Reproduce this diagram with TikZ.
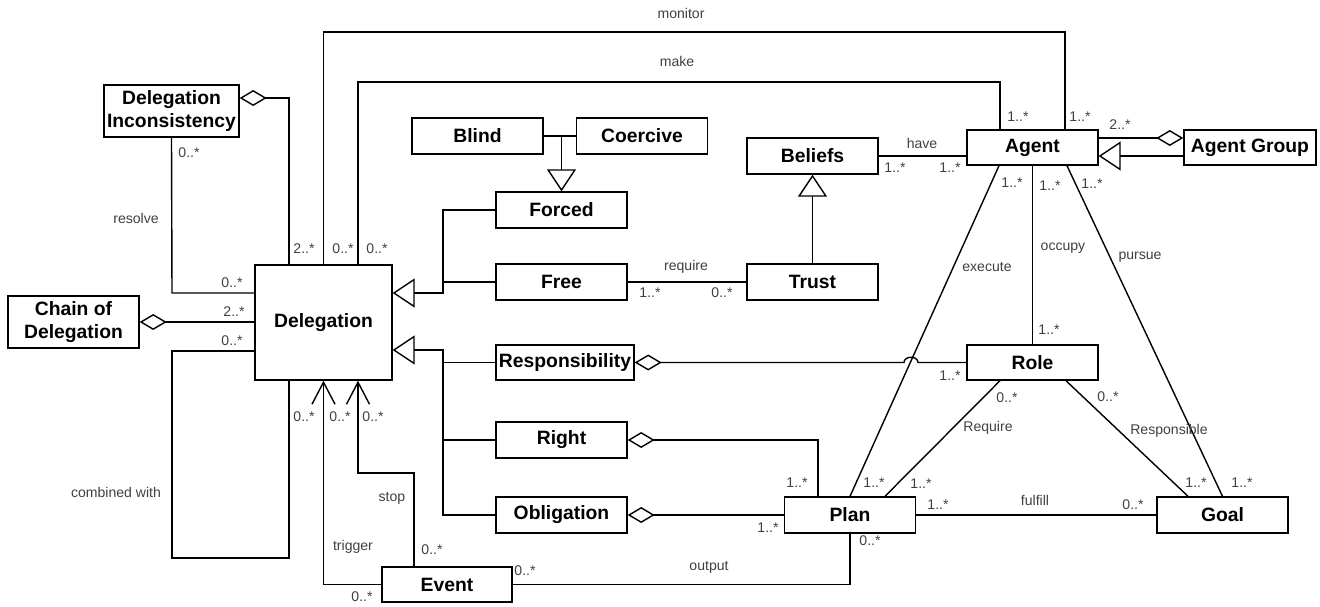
\documentclass[tikz,border=0pt]{standalone}
\usepackage{fontspec}
\setmainfont{Liberation Sans}
\usetikzlibrary{arrows.meta}
\tikzset{
    cls/.style={draw, line width=0.8pt, fill=white, inner sep=0pt, align=center,
        minimum width=2.62cm, minimum height=0.72cm,
        font=\fontsize{11}{13}\selectfont\bfseries},
    lbl/.style={font=\fontsize{8}{9}\selectfont, text=black!75, inner sep=0pt},
    agg/.style={{Diamond[open,length=0.54cm,width=0.32cm]}-},
    gen/.style={-{Triangle[open,length=0.44cm,width=0.58cm]}},
    dep/.style={-{Straight Barb[length=0.44cm,width=0.46cm]}}
}
\begin{document}
\begin{tikzpicture}[x=0.02cm, y=-0.02cm, line width=0.8pt]
        \useasboundingbox (0,0) rectangle (1320,606);

        \node[cls, minimum width=2.7cm, minimum height=1.04cm] (DI) at (171.5,111) {Delegation\\Inconsistency};
        \node[cls, minimum height=1.04cm] (Chain) at (73.5,322) {Chain of\\Delegation};
        \node[cls, minimum width=2.74cm, minimum height=2.3cm] (Delegation) at (323.5,322.5) {Delegation};
        \node[cls] (Blind) at (477.5,136) {Blind};
        \node[cls] (Coercive) at (642,136) {Coercive};
        \node[cls] (Forced) at (561.5,210) {Forced};
        \node[cls] (Free) at (561.5,282) {Free};
        \node[cls] (Beliefs) at (812.5,156) {Beliefs};
        \node[cls] (Trust) at (812.5,282) {Trust};
        \node[cls, minimum height=0.7cm] (Agent) at (1032.5,147.5) {Agent};
        \node[cls, minimum width=2.64cm, minimum height=0.7cm] (AgentGroup) at (1250,147.5) {Agent Group};
        \node[cls, minimum width=2.76cm, minimum height=0.7cm] (Responsibility) at (565,362.5) {Responsibility};
        \node[cls, minimum height=0.7cm] (Role) at (1032.5,362.5) {Role};
        \node[cls] (Right) at (561.5,440) {Right};
        \node[cls] (Obligation) at (561.5,515) {Obligation};
        \node[cls] (Plan) at (850,515) {Plan};
        \node[cls] (Goal) at (1222.5,515) {Goal};
        \node[cls, minimum width=2.6cm, minimum height=0.7cm] (Event) at (447,584.5) {Event};

        % bend points
        \coordinate (mon) at (1065,32);
        \coordinate (mk0) at (358,82);
        \coordinate (mk1) at (1000,82);
        \coordinate (di) at (289,98);
        \coordinate (rs) at (172,293);
        \coordinate (cb0) at (172,351);
        \coordinate (cb1) at (289,558);
        \coordinate (st0) at (414,473);
        \coordinate (st1) at (358,473);
        \coordinate (gA) at (443,293);
        \coordinate (gB) at (443,350);
        \coordinate (hop) at (911,362.5);

        % Delegation
        \draw (Delegation.north) |- (mon) -- (mon |- Agent.north);
        \draw (mk0 |- Delegation.north) -- (mk0) -- (mk1) -- (mk1 |- Agent.north);
        \draw[agg] (DI.east |- di) -- (di) -- (di |- Delegation.north);
        \draw (DI.south) -- (rs) -- (rs -| Delegation.west);
        \draw[agg] (Chain.east) -- (Chain.east -| Delegation.west);
        \draw (cb0 -| Delegation.west) -- (cb0) |- (cb1) -- (cb1 |- Delegation.south);
        \draw[dep] (Event.west) -| (Delegation.south);
        \draw[dep] (st0 |- Event.north) -- (st0) -- (st1) -- (st1 |- Delegation.south);
        \draw (Event.east) -| (Plan.south);

        % kinds of delegation
        \draw[gen] (Forced.west) -| (gA) -- (gA -| Delegation.east);
        \draw (Free.west) -- (Free.west -| gA);
        \draw[gen] (Obligation.west) -| (gB) -- (gB -| Delegation.east);
        \draw (Right.west) -- (Right.west -| gB);
        \draw (Responsibility.west) -- (Responsibility.west -| gB);
        \draw (Blind.east) -- (Coercive.west);
        \draw[gen] (Blind.east -| Forced.north) -- (Forced.north);
        \draw[gen] (Trust.north) -- (Beliefs.south);
        \draw (Free.east) -- (Trust.west);

        % Agent
        \draw (Beliefs.east) -- (Beliefs.east -| Agent.west);
        \draw[agg] ([yshift=0.19cm]AgentGroup.west) -- ([yshift=0.19cm]Agent.east);
        \draw[gen] ([yshift=-0.17cm]AgentGroup.west) -- ([yshift=-0.17cm]Agent.east);
        \draw ([xshift=-0.67cm]Agent.south) -- (Plan.north);
        \draw (Agent.south) -- (Role.north);
        \draw ([xshift=0.69cm]Agent.south) -- (Goal.north);

        % Role, Plan, Goal
        \draw[agg] (Responsibility.east) -- ([xshift=-0.14cm]hop)
            .. controls ([xshift=-0.14cm,yshift=0.14cm]hop) and ([xshift=0.14cm,yshift=0.14cm]hop) .. ([xshift=0.14cm]hop)
            -- (Role.west);
        \draw ([xshift=-0.65cm]Role.south) -- ([xshift=0.7cm]Plan.north);
        \draw ([xshift=0.67cm]Role.south) -- ([xshift=-0.69cm]Goal.north);
        \draw (Plan.east) -- (Goal.west);
        \draw[agg] (Right.east) -| ([xshift=-0.64cm]Plan.north);
        \draw[agg] (Obligation.east) -- (Plan.west);

        % labels
        \foreach \x/\y/\t [count=\i] in {
            681/13/monitor, 677/61/make,
            304/249/2..*, 343/249/0..*, 377/249/0..*,
            189/153/0..*, 136/218/resolve, 232/283/0..*,
            234/312/2..*, 232/341/0..*, 116/492/combined with,
            304/417/0..*, 340/417/0..*, 373/417/0..*,
            353/547/trigger, 392/498/stop, 432/550/0..*, 362/597/0..*,
            525/571/0..*, 709/567/output, 870/541/0..*,
            686/267/require, 650/293/1..*, 722/293/0..*,
            922/143/have, 895/168/1..*, 950/168/1..*,
            1018/117/1..*, 1080/117/1..*, 1120/125/2..*,
            1012/183/1..*, 1050/186/1..*, 1092/184/1..*,
            987/267/execute, 1063/248/occupy, 1140/257/pursue,
            1049/330/1..*, 950/376/1..*,
            1007/398/0..*, 1108/397/0..*,
            988/428/Require, 1169/431/Responsible,
            797/483/1..*, 874/483/1..*, 921/484/1..*, 768/528/1..*,
            1035/500/fulfill, 938/505/1..*, 1133/505/0..*,
            1196/483/1..*, 1242/483/1..*}
            \node[lbl] (l\i) at (\x,\y) {\t};

    \end{tikzpicture}
\end{document}
